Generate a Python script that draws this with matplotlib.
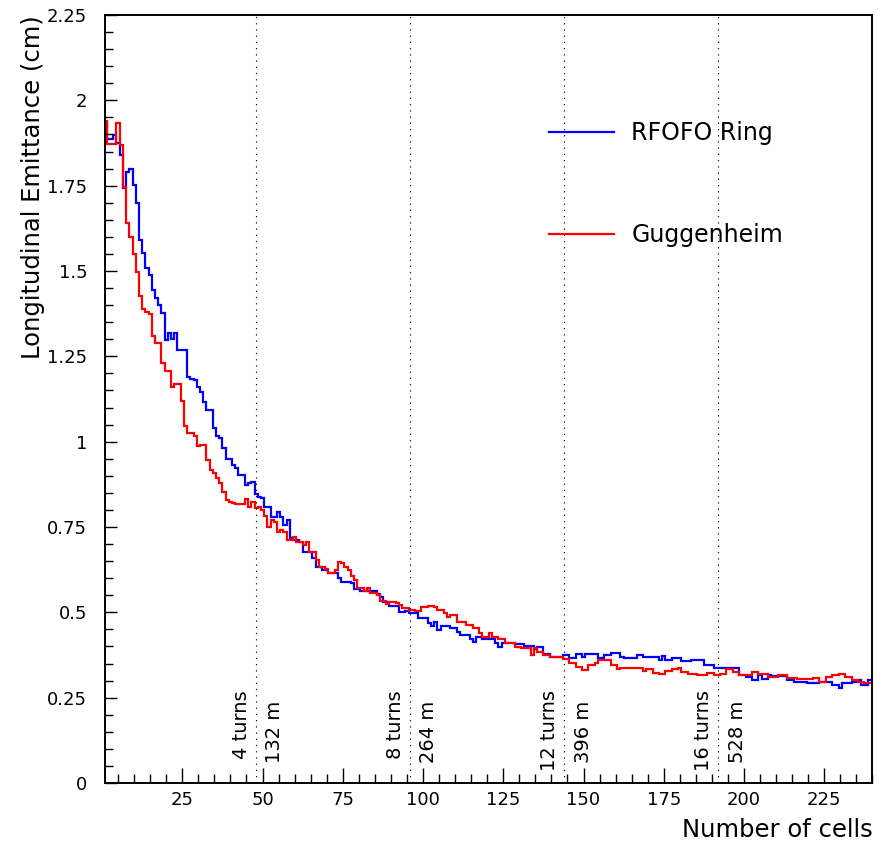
import numpy as np
import matplotlib
matplotlib.use("Agg")
import matplotlib.pyplot as plt
from matplotlib.ticker import MultipleLocator, FuncFormatter

# emittance per cell (bins centred on cell number 1..240)
rfofo = [
    1.93, 1.886, 1.886, 1.899, 1.874, 1.84, 1.742, 1.791, 1.798, 1.752,
    1.70, 1.591, 1.554, 1.508, 1.488, 1.444, 1.42, 1.40, 1.376, 1.298,
    1.319, 1.301, 1.319, 1.269, 1.269, 1.269, 1.189, 1.185, 1.18, 1.159,
    1.144, 1.117, 1.093, 1.093, 1.039, 1.017, 1.01, 0.981, 0.948, 0.948,
    0.932, 0.922, 0.902, 0.902, 0.873, 0.88, 0.883, 0.847, 0.839, 0.834,
    0.81, 0.81, 0.78, 0.78, 0.795, 0.78, 0.756, 0.77, 0.717, 0.712,
    0.712, 0.707, 0.678, 0.678, 0.678, 0.658, 0.634, 0.634, 0.624, 0.624,
    0.614, 0.614, 0.614, 0.60, 0.59, 0.59, 0.59, 0.587, 0.567, 0.567,
    0.563, 0.563, 0.563, 0.563, 0.563, 0.555, 0.546, 0.531, 0.531, 0.519,
    0.519, 0.519, 0.502, 0.502, 0.505, 0.497, 0.497, 0.497, 0.483, 0.483,
    0.483, 0.470, 0.460, 0.473, 0.448, 0.460, 0.460, 0.460, 0.453, 0.453,
    0.443, 0.434, 0.434, 0.434, 0.421, 0.414, 0.429, 0.429, 0.421, 0.421,
    0.421, 0.421, 0.409, 0.399, 0.411, 0.411, 0.411, 0.411, 0.407, 0.407,
    0.407, 0.401, 0.401, 0.401, 0.392, 0.399, 0.399, 0.378, 0.378, 0.370,
    0.370, 0.370, 0.370, 0.375, 0.375, 0.365, 0.365, 0.378, 0.378, 0.370,
    0.378, 0.378, 0.378, 0.378, 0.365, 0.365, 0.375, 0.375, 0.38, 0.38,
    0.38, 0.368, 0.365, 0.365, 0.365, 0.365, 0.375, 0.375, 0.368, 0.368,
    0.368, 0.368, 0.368, 0.36, 0.372, 0.36, 0.36, 0.365, 0.365, 0.365,
    0.356, 0.356, 0.356, 0.36, 0.36, 0.36, 0.36, 0.346, 0.346, 0.346,
    0.336, 0.336, 0.336, 0.336, 0.338, 0.338, 0.336, 0.336, 0.316, 0.316,
    0.311, 0.311, 0.302, 0.302, 0.316, 0.305, 0.305, 0.316, 0.313, 0.313,
    0.313, 0.313, 0.313, 0.302, 0.302, 0.297, 0.297, 0.297, 0.297, 0.292,
    0.292, 0.292, 0.292, 0.297, 0.297, 0.297, 0.297, 0.287, 0.287, 0.277,
    0.292, 0.292, 0.292, 0.297, 0.297, 0.302, 0.287, 0.287, 0.302, 0.302,
]

guggenheim = [
    1.94, 1.872, 1.872, 1.872, 1.933, 1.870, 1.747, 1.64, 1.60, 1.55,
    1.498, 1.426, 1.388, 1.381, 1.373, 1.31, 1.288, 1.288, 1.23, 1.207,
    1.207, 1.159, 1.168, 1.168, 1.12, 1.046, 1.025, 1.025, 1.017, 0.987,
    0.99, 0.99, 0.946, 0.917, 0.907, 0.893, 0.880, 0.853, 0.829, 0.824,
    0.819, 0.817, 0.817, 0.817, 0.831, 0.81, 0.824, 0.805, 0.81, 0.80,
    0.782, 0.751, 0.77, 0.765, 0.736, 0.74, 0.736, 0.712, 0.712, 0.72,
    0.707, 0.707, 0.697, 0.707, 0.678, 0.678, 0.653, 0.634, 0.634, 0.626,
    0.614, 0.614, 0.624, 0.648, 0.645, 0.634, 0.625, 0.605, 0.595, 0.570,
    0.570, 0.563, 0.570, 0.558, 0.558, 0.551, 0.534, 0.534, 0.524, 0.531,
    0.531, 0.527, 0.52, 0.512, 0.512, 0.507, 0.507, 0.505, 0.505, 0.515,
    0.515, 0.519, 0.519, 0.515, 0.507, 0.507, 0.497, 0.487, 0.492, 0.492,
    0.473, 0.473, 0.473, 0.463, 0.463, 0.453, 0.453, 0.439, 0.429, 0.429,
    0.439, 0.427, 0.427, 0.421, 0.421, 0.409, 0.409, 0.409, 0.399, 0.399,
    0.395, 0.395, 0.395, 0.375, 0.395, 0.385, 0.385, 0.375, 0.375, 0.370,
    0.370, 0.370, 0.370, 0.362, 0.362, 0.351, 0.351, 0.341, 0.341, 0.331,
    0.331, 0.346, 0.346, 0.352, 0.36, 0.36, 0.36, 0.36, 0.346, 0.346,
    0.333, 0.336, 0.336, 0.336, 0.336, 0.336, 0.338, 0.338, 0.329, 0.333,
    0.333, 0.323, 0.323, 0.32, 0.32, 0.329, 0.329, 0.333, 0.333, 0.338,
    0.326, 0.326, 0.32, 0.32, 0.32, 0.316, 0.316, 0.316, 0.323, 0.323,
    0.316, 0.316, 0.32, 0.32, 0.333, 0.333, 0.326, 0.326, 0.316, 0.316,
    0.316, 0.316, 0.326, 0.326, 0.318, 0.318, 0.318, 0.311, 0.311, 0.311,
    0.316, 0.316, 0.316, 0.307, 0.307, 0.307, 0.305, 0.305, 0.305, 0.305,
    0.305, 0.307, 0.307, 0.297, 0.297, 0.311, 0.311, 0.316, 0.316, 0.32,
    0.32, 0.311, 0.311, 0.302, 0.302, 0.297, 0.297, 0.292, 0.292, 0.292,
]

# ring markers
turn_cells = [48, 96, 144, 192]
turn_labels = ["4 turns", "8 turns", "12 turns", "16 turns"]
dist_labels = ["132 m", "264 m", "396 m", "528 m"]

plt.rcParams["font.family"] = ["DejaVu Sans"]

fig = plt.figure(figsize=(8.86, 8.42), dpi=100)
ax = fig.add_axes([0.1188, 0.0701, 0.8659, 0.9121])

edges = np.arange(0.5, len(rfofo) + 1)
ax.stairs(rfofo, edges, baseline=None, color="#0000ff", lw=1.6, label="RFOFO Ring")
ax.stairs(guggenheim, edges, baseline=None, color="#ff0000", lw=1.6, label="Guggenheim")

for c, t, d in zip(turn_cells, turn_labels, dist_labels):
    ax.axvline(c, color="black", lw=0.8, linestyle=(0, (1.1, 4.5)))
    ax.annotate(t, xy=(c, 0.272), xytext=(-10.5, 0), textcoords="offset points",
                rotation=90, ha="center", va="top", fontsize=14)
    ax.annotate(d, xy=(c, 0.24), xytext=(13.5, 0), textcoords="offset points",
                rotation=90, ha="center", va="top", fontsize=14)

ax.set_xlim(1, 240)
ax.set_ylim(0, 2.25)
ax.xaxis.set_major_locator(MultipleLocator(25))
ax.xaxis.set_minor_locator(MultipleLocator(5))
ax.yaxis.set_major_locator(MultipleLocator(0.25))
ax.yaxis.set_minor_locator(MultipleLocator(0.05))
ax.yaxis.set_major_formatter(FuncFormatter(lambda v, p: "{:g}".format(v)))

ax.tick_params(which="both", direction="in", width=1, labelsize=13)
ax.tick_params(axis="x", which="major", length=10.8, pad=6)
ax.tick_params(axis="x", which="minor", length=6.5)
ax.tick_params(axis="y", which="major", length=8.6, pad=13)
ax.tick_params(axis="y", which="minor", length=5.5)
for s in ax.spines.values():
    s.set_linewidth(1.4)

ax.set_xlabel("Number of cells", fontsize=17.5, loc="right")
ax.xaxis.set_label_coords(1.0, -0.046)
ax.set_ylabel("Longitudinal Emittance (cm)", fontsize=17.5, loc="top")
ax.yaxis.set_label_coords(-0.078, 1.0)

ax.legend(loc="upper left", bbox_to_anchor=(0.578, 0.862), frameon=False,
          fontsize=17, handlelength=2.75, handletextpad=0.75,
          labelspacing=3.3, borderpad=0, borderaxespad=0)

fig.savefig("out.png", dpi=100)
